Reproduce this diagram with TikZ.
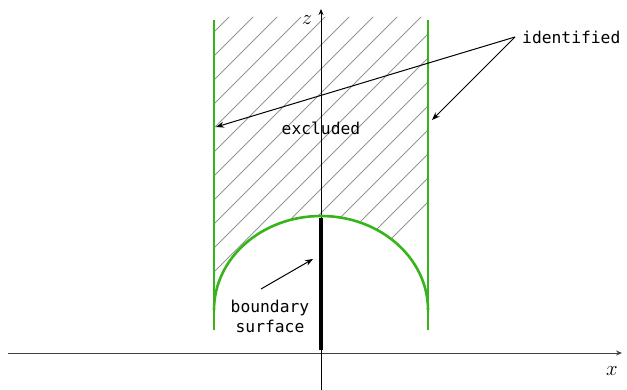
\documentclass[tikz,border=0pt]{standalone}
\usepackage{fontspec}
\setmainfont{DejaVu Sans Mono}
\usetikzlibrary{arrows.meta}
\definecolor{ggreen}{RGB}{55,180,25}
\definecolor{hatchgray}{RGB}{150,150,150}
\tikzset{
  wall/.style={draw=ggreen, line width=2.6pt},
  hatch/.style={draw=hatchgray, line width=0.8pt},
  axis/.style={draw=black, line width=0.9pt, -{Stealth[length=6pt,width=5pt]}},
  pointer/.style={draw=black, line width=1pt, -{Stealth[length=8pt,width=6pt]}},
  lbl/.style={font=\fontsize{16.3}{20}\selectfont, inner sep=1pt},
  axlbl/.style={font=\fontsize{21}{24}\selectfont, inner sep=1pt}
}
\begin{document}
\begin{tikzpicture}[x=1pt,y=1pt]
\useasboundingbox (0,0) rectangle (627,390);
% hatching
\begin{scope}
  \clip (214,373) -- (214,80) arc[start angle=180, end angle=0, x radius=107, y radius=94] -- (428,373) -- cycle;
  \foreach \c in {-480,-456,...,240} \draw[hatch] (\c,0) -- ++(420,420);
\end{scope}
% axes
\coordinate (xs) at (8,37);
\coordinate (xe) at (622,37);
\coordinate (zs) at (321,0);
\coordinate (ze) at (321,381);
\draw[axis, draw=black!75] (xs) -- (xe);
\draw[axis] (zs) -- (ze);
\node[axlbl] (zl) at (307,370) {$z$};
\node[axlbl] (xl) at (612,19) {$x$};
% walls
\coordinate (l1) at (214,60);
\coordinate (l2) at (214,370);
\coordinate (r1) at (428,60);
\coordinate (r2) at (428,370);
\draw[wall] (l1) -- (l2);
\draw[wall] (r1) -- (r2);
\draw[wall] (214,80) arc[start angle=180, end angle=0, x radius=107, y radius=94];
% boundary surface
\coordinate (b1) at (321,40);
\coordinate (b2) at (321,172);
\draw[line width=3.5pt, black] (b1) -- (b2);
% labels
\node[lbl, anchor=west] (id) at (521,353) {identified};
\coordinate (idp) at (515,353);
\coordinate (tl) at (216,263);
\coordinate (tr) at (432,270);
\draw[pointer] (idp) -- (tl);
\draw[pointer] (idp) -- (tr);
\node[lbl] (ex) at (321,262) {excluded};
\node[lbl, align=center] (bs) at (270,74) {boundary\\surface};
\coordinate (bst) at (261,101);
\coordinate (bsh) at (313,131);
\draw[pointer] (bst) -- (bsh);
\end{tikzpicture}
\end{document}
